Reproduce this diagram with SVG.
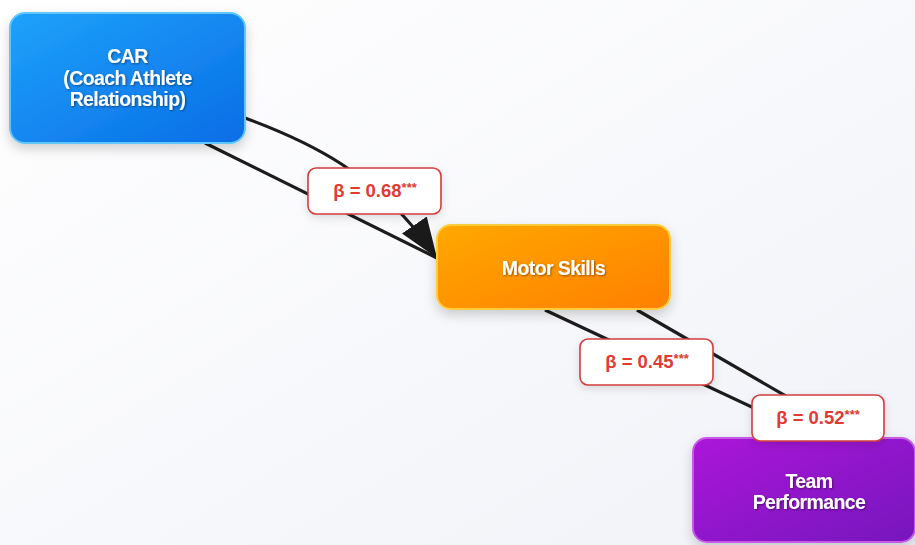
<svg xmlns="http://www.w3.org/2000/svg" width="915" height="545" viewBox="0 0 915 545">
<defs>
<linearGradient id="bg" x1="0" y1="0" x2="1" y2="1"><stop offset="0" stop-color="#ffffff"/><stop offset="1" stop-color="#f1f2f8"/></linearGradient>
<linearGradient id="gBlue" x1="0" y1="0" x2="1" y2="1"><stop offset="0" stop-color="#1ea2fb"/><stop offset="1" stop-color="#0a6de6"/></linearGradient>
<linearGradient id="gOrange" x1="0" y1="0" x2="1" y2="1"><stop offset="0" stop-color="#ffa800"/><stop offset="1" stop-color="#ff8000"/></linearGradient>
<linearGradient id="gPurple" x1="0" y1="0" x2="1" y2="1"><stop offset="0" stop-color="#ab14d8"/><stop offset="1" stop-color="#7614be"/></linearGradient>
<filter id="shadow" x="-20%" y="-20%" width="140%" height="150%"><feDropShadow dx="0" dy="5" stdDeviation="6" flood-color="#000" flood-opacity="0.18"/></filter>
<filter id="lshadow" x="-20%" y="-30%" width="140%" height="170%"><feDropShadow dx="0" dy="3" stdDeviation="4" flood-color="#000" flood-opacity="0.12"/></filter>
<filter id="tshadow" x="-10%" y="-30%" width="120%" height="160%"><feDropShadow dx="1" dy="1" stdDeviation="1" flood-color="#000" flood-opacity="0.45"/></filter>
<marker id="arrow" markerUnits="userSpaceOnUse" markerWidth="42" markerHeight="30" refX="40" refY="15" orient="auto"><path d="M0,0 L40,15 L0,30 z" fill="#1a1a1a"/></marker>
<style>
.edge{fill:none;stroke:#1c1c1c;stroke-width:3.2}
.ntext{font-family:"Liberation Sans",Arial,sans-serif;font-weight:bold;font-size:19.5px;fill:#ffffff;text-anchor:middle;letter-spacing:-0.6px}
.lbox{fill:#ffffff;stroke:#d23c3c;stroke-width:1.6}
.ltext{font-family:"Liberation Sans",Arial,sans-serif;font-weight:bold;font-size:18.5px;fill:#e03a32;text-anchor:middle}
.stars{font-size:13px}
</style>
</defs>
<rect x="0" y="0" width="915" height="545" fill="url(#bg)"/>
<g id="connectors">
<path class="edge" d="M205,143 L437,258"/>
<path class="edge" d="M245,118 C305,140 378,172 437,258" marker-end="url(#arrow)"/>
<path class="edge" d="M545,310 L790,425"/>
<path class="edge" d="M637,310 L810,410"/>
</g>
<g id="node-car">
<rect x="10" y="13" width="235" height="130" rx="15" fill="url(#gBlue)" stroke="#5ec6ff" stroke-width="2" filter="url(#shadow)"/>
<g filter="url(#tshadow)">
<text class="ntext" x="127.5" y="63">CAR</text>
<text class="ntext" x="127.5" y="85">(Coach Athlete</text>
<text class="ntext" x="127.5" y="106">Relationship)</text>
</g>
</g>
<g id="node-motor">
<rect x="437" y="225" width="233" height="84" rx="14" fill="url(#gOrange)" stroke="#ffcd3a" stroke-width="2" filter="url(#shadow)"/>
<text class="ntext" x="553.5" y="275" filter="url(#tshadow)">Motor Skills</text>
</g>
<g id="node-team">
<rect x="693" y="438" width="222" height="104" rx="14" fill="url(#gPurple)" stroke="#c65ae6" stroke-width="2" filter="url(#shadow)"/>
<g filter="url(#tshadow)">
<text class="ntext" x="809" y="488">Team</text>
<text class="ntext" x="809" y="509">Performance</text>
</g>
</g>
<g id="label-068">
<rect class="lbox" x="308" y="168" width="133" height="46" rx="8" filter="url(#lshadow)"/>
<text class="ltext" x="375" y="197">β = 0.68<tspan class="stars" dy="-5">***</tspan></text>
</g>
<g id="label-045">
<rect class="lbox" x="580" y="339" width="133" height="46" rx="8" filter="url(#lshadow)"/>
<text class="ltext" x="647" y="368">β = 0.45<tspan class="stars" dy="-5">***</tspan></text>
</g>
<g id="label-052">
<rect class="lbox" x="752" y="395" width="132" height="46" rx="8" filter="url(#lshadow)"/>
<text class="ltext" x="818" y="424">β = 0.52<tspan class="stars" dy="-5">***</tspan></text>
</g>
</svg>
